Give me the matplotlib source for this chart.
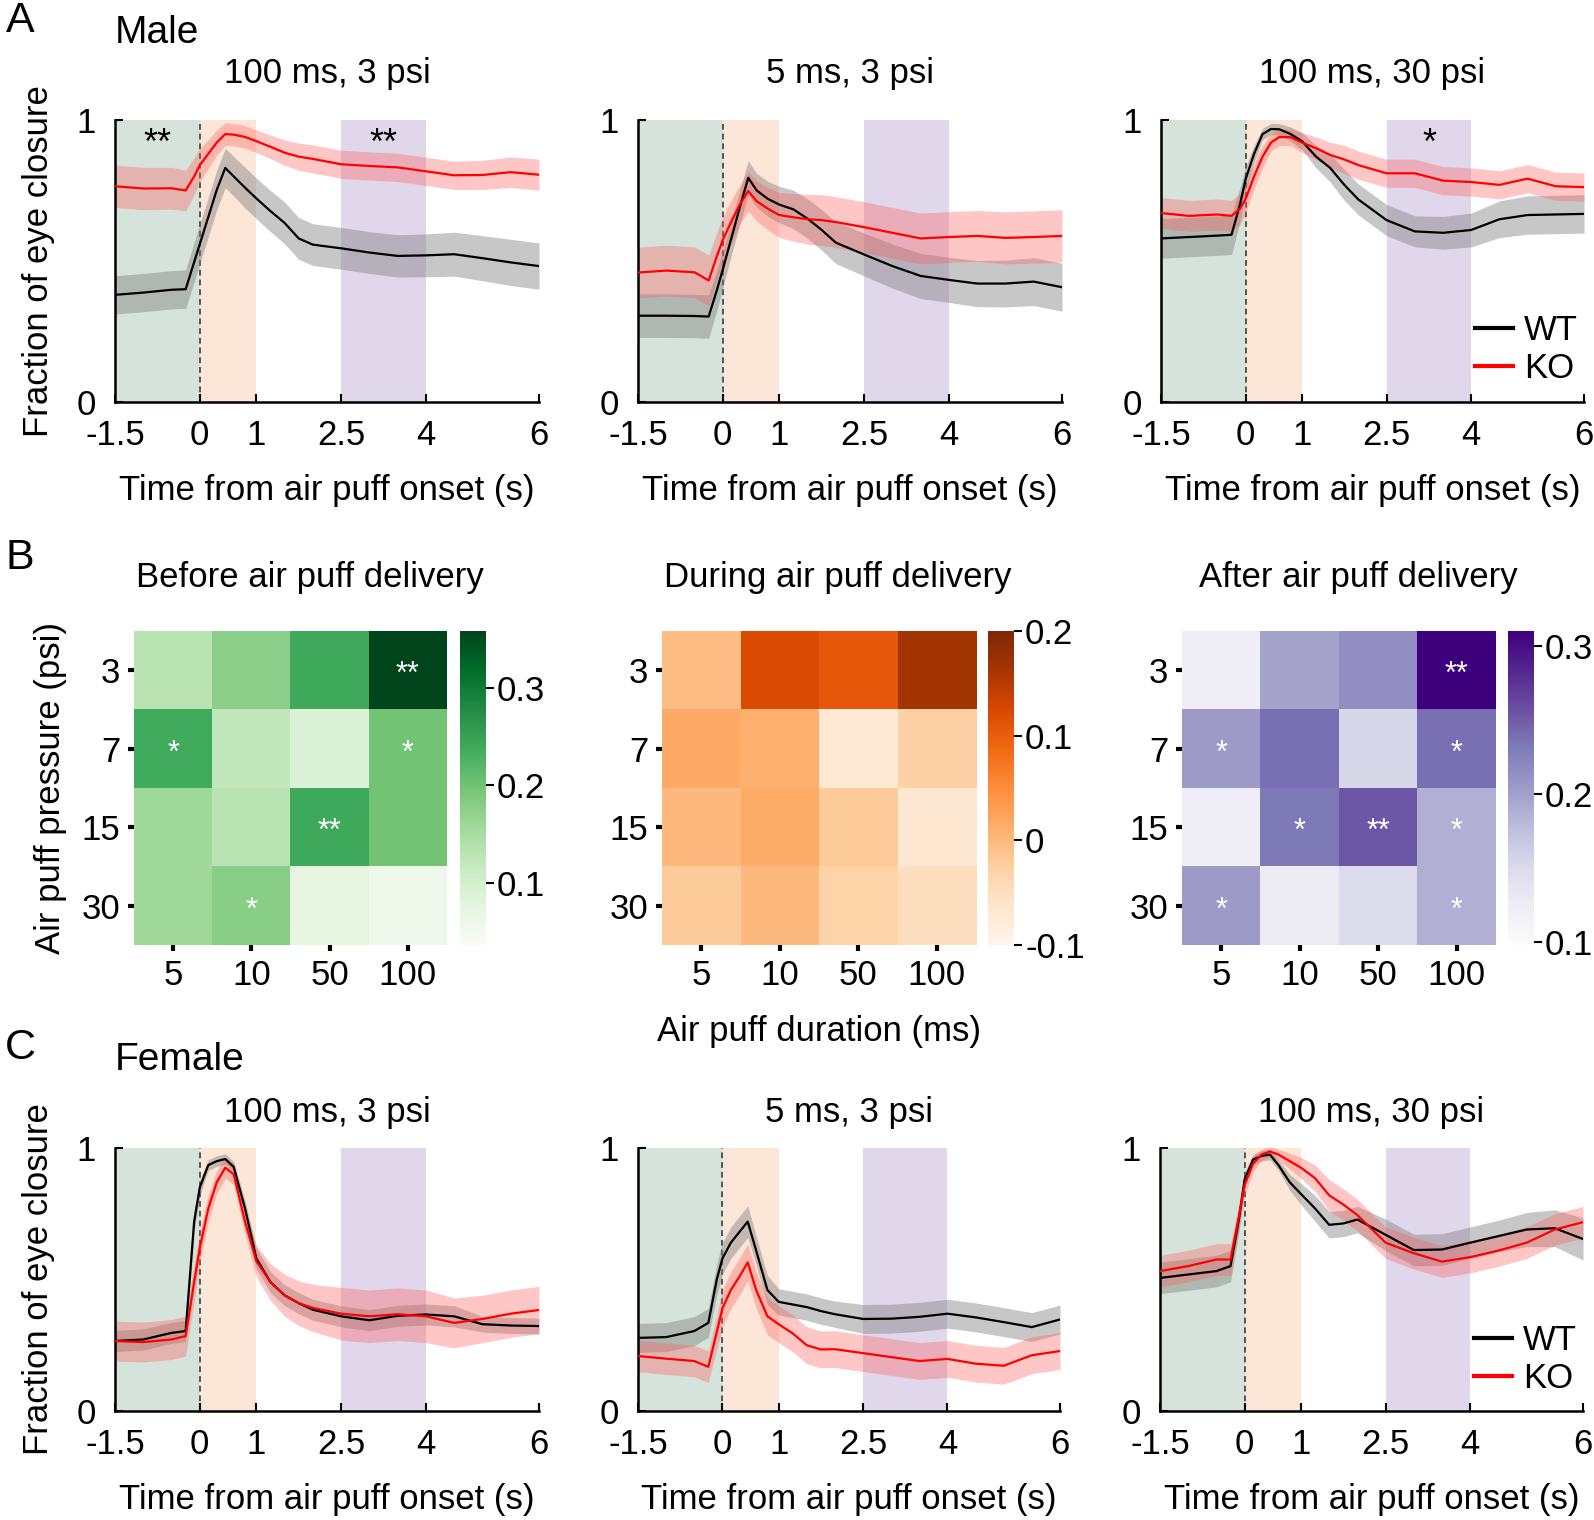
import numpy as np
import matplotlib
matplotlib.use('Agg')
import matplotlib.pyplot as plt

plt.rcParams['font.family'] = ['Liberation Sans', 'DejaVu Sans']
plt.rcParams['axes.unicode_minus'] = False

# --------------------- Zeitachse (s) ---------------------
zeit = [-1.5, -1.0, -0.5, -0.25, -0.1, 0.0, 0.15, 0.3, 0.45, 0.6, 0.8, 1.0,
        1.25, 1.5, 1.75, 2.0, 2.5, 3.0, 3.5, 4.0, 4.5, 5.0, 5.5, 6.0]

# --------------------- Male: 100 ms, 3 psi ---------------------
m1_wt = [0.38, 0.388, 0.398, 0.40, 0.496, 0.56, 0.656, 0.752, 0.83, 0.80, 0.76, 0.722,
         0.677, 0.635, 0.58, 0.558, 0.545, 0.53, 0.518, 0.52, 0.524, 0.51, 0.495, 0.482]
m1_wt_sem = [0.068, 0.068, 0.068, 0.068, 0.07, 0.07, 0.07, 0.07, 0.07, 0.07, 0.072, 0.072,
             0.073, 0.074, 0.074, 0.074, 0.074, 0.074, 0.075, 0.076, 0.078, 0.08, 0.082, 0.082]
m1_ko = [0.765, 0.757, 0.758, 0.75, 0.80, 0.84, 0.88, 0.92, 0.95, 0.948, 0.94, 0.925,
         0.905, 0.884, 0.87, 0.862, 0.843, 0.837, 0.832, 0.818, 0.804, 0.805, 0.815, 0.806]
m1_ko_sem = [0.075, 0.075, 0.074, 0.072, 0.065, 0.06, 0.05, 0.045, 0.04, 0.04, 0.04, 0.04,
             0.042, 0.045, 0.048, 0.05, 0.05, 0.05, 0.05, 0.05, 0.05, 0.052, 0.054, 0.055]

# --------------------- Male: 5 ms, 3 psi ---------------------
m2_wt = [0.306, 0.306, 0.305, 0.303, 0.40, 0.47, 0.58, 0.69, 0.795, 0.75, 0.72, 0.70,
         0.683, 0.65, 0.61, 0.565, 0.523, 0.482, 0.447, 0.433, 0.42, 0.42, 0.427, 0.407]
m2_wt_sem = [0.077, 0.077, 0.077, 0.077, 0.07, 0.065, 0.06, 0.06, 0.06, 0.06, 0.062, 0.065,
             0.068, 0.07, 0.072, 0.074, 0.076, 0.078, 0.08, 0.08, 0.082, 0.083, 0.085, 0.085]
m2_ko = [0.459, 0.466, 0.46, 0.431, 0.52, 0.575, 0.64, 0.70, 0.748, 0.712, 0.685, 0.663,
         0.655, 0.648, 0.645, 0.638, 0.62, 0.60, 0.58, 0.585, 0.589, 0.582, 0.585, 0.589]
m2_ko_sem = [0.09, 0.09, 0.09, 0.09, 0.085, 0.08, 0.075, 0.07, 0.07, 0.07, 0.075, 0.08,
             0.085, 0.088, 0.09, 0.09, 0.09, 0.09, 0.09, 0.09, 0.09, 0.092, 0.093, 0.093]

# --------------------- Male: 100 ms, 30 psi ---------------------
m3_wt = [0.58, 0.585, 0.59, 0.593, 0.70, 0.79, 0.88, 0.95, 0.968, 0.967, 0.95, 0.925,
         0.87, 0.83, 0.77, 0.718, 0.645, 0.605, 0.60, 0.61, 0.648, 0.663, 0.665, 0.667]
m3_wt_sem = [0.07, 0.07, 0.07, 0.07, 0.06, 0.045, 0.03, 0.02, 0.02, 0.02, 0.025, 0.03,
             0.04, 0.05, 0.055, 0.055, 0.055, 0.055, 0.058, 0.06, 0.065, 0.068, 0.068, 0.068]
m3_ko = [0.67, 0.66, 0.665, 0.66, 0.685, 0.72, 0.80, 0.87, 0.92, 0.94, 0.939, 0.92,
         0.90, 0.876, 0.86, 0.84, 0.811, 0.811, 0.785, 0.78, 0.77, 0.792, 0.765, 0.762]
m3_ko_sem = [0.055, 0.055, 0.055, 0.055, 0.055, 0.05, 0.045, 0.04, 0.03, 0.03, 0.03, 0.035,
             0.04, 0.045, 0.05, 0.05, 0.05, 0.05, 0.05, 0.05, 0.05, 0.05, 0.05, 0.05]

# --------------------- Female: 100 ms, 3 psi ---------------------
f1_wt = [0.266, 0.272, 0.297, 0.304, 0.72, 0.85, 0.935, 0.95, 0.958, 0.928, 0.77, 0.58,
         0.49, 0.44, 0.41, 0.385, 0.36, 0.345, 0.362, 0.367, 0.36, 0.33, 0.325, 0.323]
f1_wt_sem = [0.04, 0.04, 0.04, 0.04, 0.04, 0.03, 0.02, 0.02, 0.02, 0.02, 0.03, 0.04,
             0.04, 0.04, 0.04, 0.04, 0.04, 0.04, 0.04, 0.04, 0.04, 0.03, 0.03, 0.03]
f1_ko = [0.266, 0.262, 0.272, 0.285, 0.49, 0.62, 0.77, 0.87, 0.925, 0.90, 0.72, 0.57,
         0.49, 0.44, 0.41, 0.392, 0.37, 0.36, 0.368, 0.36, 0.335, 0.35, 0.37, 0.384]
f1_ko_sem = [0.076, 0.076, 0.076, 0.076, 0.07, 0.06, 0.05, 0.045, 0.04, 0.04, 0.05, 0.06,
             0.07, 0.08, 0.085, 0.09, 0.1, 0.1, 0.1, 0.1, 0.095, 0.09, 0.09, 0.09]

# --------------------- Female: 5 ms, 3 psi ---------------------
f2_wt = [0.278, 0.281, 0.304, 0.335, 0.50, 0.58, 0.64, 0.68, 0.72, 0.61, 0.46, 0.415,
         0.405, 0.395, 0.38, 0.368, 0.35, 0.351, 0.358, 0.37, 0.356, 0.338, 0.319, 0.348]
f2_wt_sem = [0.055, 0.055, 0.055, 0.055, 0.06, 0.06, 0.06, 0.06, 0.06, 0.055, 0.055, 0.05,
             0.05, 0.05, 0.05, 0.05, 0.055, 0.055, 0.055, 0.055, 0.055, 0.055, 0.055, 0.055]
f2_ko = [0.209, 0.199, 0.19, 0.168, 0.30, 0.39, 0.46, 0.51, 0.565, 0.46, 0.36, 0.33,
         0.295, 0.25, 0.234, 0.235, 0.22, 0.205, 0.19, 0.198, 0.18, 0.172, 0.212, 0.228]
f2_ko_sem = [0.06, 0.06, 0.06, 0.06, 0.065, 0.07, 0.07, 0.07, 0.07, 0.07, 0.07, 0.07,
             0.07, 0.07, 0.07, 0.07, 0.07, 0.07, 0.07, 0.07, 0.07, 0.07, 0.07, 0.07]

# --------------------- Female: 100 ms, 30 psi ---------------------
f3_wt = [0.506, 0.519, 0.532, 0.551, 0.73, 0.88, 0.956, 0.97, 0.975, 0.935, 0.87, 0.825,
         0.77, 0.708, 0.713, 0.728, 0.67, 0.612, 0.614, 0.64, 0.665, 0.69, 0.695, 0.654]
f3_wt_sem = [0.06, 0.06, 0.06, 0.06, 0.05, 0.03, 0.02, 0.02, 0.02, 0.02, 0.03, 0.04,
             0.05, 0.05, 0.05, 0.05, 0.06, 0.06, 0.06, 0.06, 0.06, 0.065, 0.07, 0.08]
f3_ko = [0.532, 0.551, 0.576, 0.576, 0.74, 0.86, 0.94, 0.975, 0.987, 0.975, 0.95, 0.925,
         0.885, 0.82, 0.785, 0.745, 0.64, 0.60, 0.568, 0.585, 0.61, 0.64, 0.69, 0.718]
f3_ko_sem = [0.06, 0.06, 0.06, 0.06, 0.05, 0.04, 0.03, 0.02, 0.02, 0.02, 0.03, 0.04,
             0.05, 0.06, 0.06, 0.06, 0.06, 0.06, 0.06, 0.06, 0.06, 0.06, 0.06, 0.06]

# --------------------- Heatmaps (Zeilen: Druck, Spalten: Dauer) ---------------------
dauer = ['5', '10', '50', '100']
druck = ['3', '7', '15', '30']

vorher = [[0.13, 0.175, 0.24, 0.358],
          [0.236, 0.123, 0.09, 0.197],
          [0.157, 0.13, 0.24, 0.197],
          [0.157, 0.178, 0.076, 0.055]]
vorher_sig = [['', '', '', '**'],
              ['*', '', '', '*'],
              ['', '', '**', ''],
              ['', '*', '', '']]

waehrend = [[-0.004, 0.122, 0.107, 0.164],
            [0.017, 0.011, -0.07, -0.028],
            [0.0, 0.014, -0.02, -0.067],
            [-0.02, 0.0, -0.03, -0.05]]
waehrend_sig = [['', '', '', ''],
                ['', '', '', ''],
                ['', '', '', ''],
                ['', '', '', '']]

nachher = [[0.124, 0.198, 0.215, 0.31],
           [0.204, 0.238, 0.153, 0.238],
           [0.124, 0.232, 0.253, 0.187],
           [0.204, 0.128, 0.149, 0.187]]
nachher_sig = [['', '', '', '**'],
               ['*', '', '', '*'],
               ['', '*', '**', '*'],
               ['*', '', '', '*']]

# Sterne in den Zeitverläufen (t, Text)
sterne_m1 = [(-0.75, '**'), (3.25, '**')]
sterne_m3 = [(3.25, '*')]

FS = 25
W, H = 1594, 1520
fig = plt.figure(figsize=(W / 100, H / 100), dpi=100)


def px(l, t, r, b):
    # Pixel-Box -> Figure-Koordinaten
    return [l / W, 1 - b / H, (r - l) / W, (b - t) / H]


# --------------------- Zeitverlauf zeichnen ---------------------
def verlauf(box, titel, wt, wt_sem, ko, ko_sem, sterne=(), legende=None, ylabel=False,
            titelpad=22):
    ax = fig.add_axes(px(*box))
    t = np.array(zeit)
    ax.axvspan(-1.5, 0, color='#d6e3da', lw=0, zorder=0)
    ax.axvspan(0, 1, color='#fce6d7', lw=0, zorder=0)
    ax.axvspan(2.5, 4, color='#e0d7ea', lw=0, zorder=0)
    ax.axvline(0, color='#555555', lw=1.4, ls=(0, (3, 2)), zorder=1)

    wt, wt_sem = np.array(wt), np.array(wt_sem)
    ko, ko_sem = np.array(ko), np.array(ko_sem)
    ax.fill_between(t, wt - wt_sem, wt + wt_sem, color='#7a7a7a', alpha=0.42, lw=0, zorder=2)
    ax.fill_between(t, ko - ko_sem, ko + ko_sem, color='#ff5c5c', alpha=0.35, lw=0, zorder=2)
    l_wt, = ax.plot(t, wt, color='black', lw=1.6, zorder=3, label='WT')
    l_ko, = ax.plot(t, ko, color='red', lw=1.6, zorder=3, label='KO')

    for xs, s in sterne:
        ax.text(xs, 0.915, s, ha='center', va='center', fontsize=26, zorder=4)

    ax.set_xlim(-1.5, 6)
    ax.set_ylim(0, 1)
    ax.set_xticks([-1.5, 0, 1, 2.5, 4, 6])
    ax.set_xticklabels(['-1.5', '0', '1', '2.5', '4', '6'])
    ax.set_yticks([0, 1])
    ax.set_yticklabels(['0', '1'])
    ax.tick_params(direction='in', length=6, width=1.5, labelsize=FS)
    ax.tick_params(axis='x', pad=12)
    ax.tick_params(axis='y', pad=14)
    for s in ['top', 'right']:
        ax.spines[s].set_visible(False)
    for s in ['left', 'bottom']:
        ax.spines[s].set_linewidth(1.8)
    ax.set_title(titel, fontsize=FS, pad=titelpad)
    ax.set_xlabel('Time from air puff onset (s)', fontsize=FS, labelpad=16)
    if ylabel:
        ax.set_ylabel('Fraction of eye closure', fontsize=FS, labelpad=15)
    if legende is not None:
        ax.legend(handles=[l_wt, l_ko], loc='lower right', bbox_to_anchor=legende,
                  frameon=False, fontsize=FS, handlelength=1.1, handletextpad=0.3,
                  labelspacing=0.15, borderpad=0, borderaxespad=0)
        for h in ax.get_legend().get_lines():
            h.set_linewidth(3)
    return ax


# --------------------- Heatmap zeichnen ---------------------
def heatmap(box, cbox, titel, werte, sig, cmap, vmin, vmax, cticks, ctlabels):
    ax = fig.add_axes(px(*box))
    im = ax.imshow(np.array(werte), cmap=cmap, vmin=vmin, vmax=vmax, aspect='auto')
    for i in range(4):
        for j in range(4):
            if sig[i][j]:
                ax.text(j, i + 0.06, sig[i][j], color='white', ha='center', va='center',
                        fontsize=22)
    ax.set_xticks(range(4))
    ax.set_xticklabels(dauer)
    ax.set_yticks(range(4))
    ax.set_yticklabels(druck)
    ax.tick_params(direction='out', length=4, width=3, labelsize=FS, pad=6)
    for s in ax.spines.values():
        s.set_visible(False)
    cax = fig.add_axes(px(*cbox))
    cb = fig.colorbar(im, cax=cax)
    cb.outline.set_visible(False)
    cb.set_ticks(cticks)
    cb.set_ticklabels(ctlabels)
    cax.tick_params(direction='out', length=6, width=1.5, labelsize=FS, pad=2)
    l, t, r, b = box
    cl, ct, cr, cbb = cbox
    fig.text((l + cr) / 2 / W, 1 - 578 / H, titel, ha='center', va='center', fontsize=FS)
    return ax


# --------------------- A: Male ---------------------
verlauf((115, 120, 539, 402), '100 ms, 3 psi', m1_wt, m1_wt_sem, m1_ko, m1_ko_sem,
        sterne=sterne_m1, ylabel=True, titelpad=27)
verlauf((638, 120, 1062, 402), '5 ms, 3 psi', m2_wt, m2_wt_sem, m2_ko, m2_ko_sem,
        titelpad=27)
verlauf((1161, 120, 1584, 402), '100 ms, 30 psi', m3_wt, m3_wt_sem, m3_ko, m3_ko_sem,
        sterne=sterne_m3, legende=(0.985, 0.06), titelpad=27)

# --------------------- B: Heatmaps ---------------------
hb = heatmap((134, 631, 447, 945), (460, 631, 486, 945), 'Before air puff delivery',
             vorher, vorher_sig, 'Greens', 0.036, 0.358, [0.1, 0.2, 0.3], ['0.1', '0.2', '0.3'])
hb.set_ylabel('Air puff pressure (psi)', fontsize=FS, labelpad=10)
hd = heatmap((662, 631, 976, 945), (988, 631, 1014, 945), 'During air puff delivery',
             waehrend, waehrend_sig, 'Oranges', -0.1, 0.2, [-0.1, 0, 0.1, 0.2],
             ['-0.1', '0', '0.1', '0.2'])
hd.set_xlabel('Air puff duration (ms)', fontsize=FS, labelpad=17)
heatmap((1182, 631, 1496, 945), (1508, 631, 1534, 945), 'After air puff delivery',
        nachher, nachher_sig, 'Purples', 0.098, 0.31, [0.1, 0.2, 0.3], ['0.1', '0.2', '0.3'])

# --------------------- C: Female ---------------------
verlauf((115, 1148, 539, 1411), '100 ms, 3 psi', f1_wt, f1_wt_sem, f1_ko, f1_ko_sem,
        ylabel=True, titelpad=19)
verlauf((638, 1148, 1060, 1411), '5 ms, 3 psi', f2_wt, f2_wt_sem, f2_ko, f2_ko_sem,
        titelpad=19)
verlauf((1160, 1148, 1583, 1411), '100 ms, 30 psi', f3_wt, f3_wt_sem, f3_ko, f3_ko_sem,
        legende=(0.985, 0.06), titelpad=19)

# --------------------- Beschriftungen ---------------------
fig.text(20 / W, 1 - 21 / H, 'A', fontsize=31, ha='center', va='center')
fig.text(20 / W, 1 - 558 / H, 'B', fontsize=31, ha='center', va='center')
fig.text(20 / W, 1 - 1048 / H, 'C', fontsize=31, ha='center', va='center')
fig.text(115 / W, 1 - 33 / H, 'Male', fontsize=28, ha='left', va='center')
fig.text(115 / W, 1 - 1060 / H, 'Female', fontsize=28, ha='left', va='center')

fig.savefig('out.png', dpi=100)
